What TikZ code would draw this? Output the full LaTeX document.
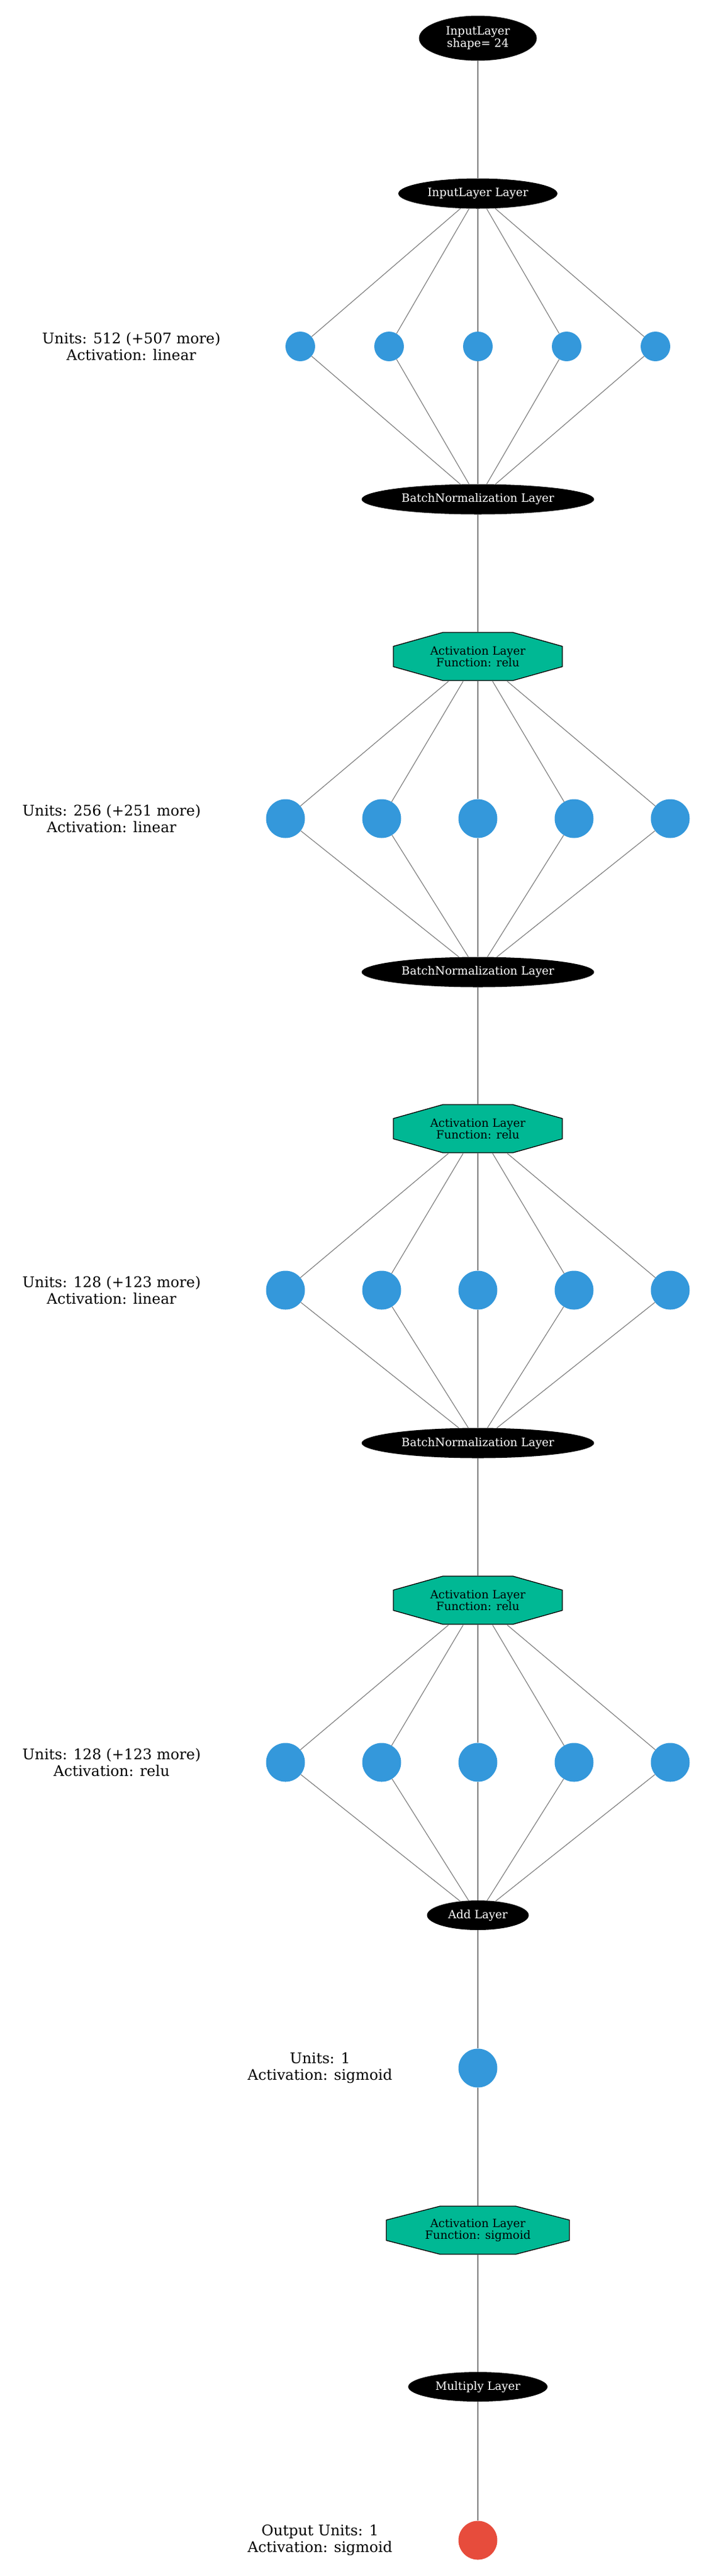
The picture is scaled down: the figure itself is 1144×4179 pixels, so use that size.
\documentclass[tikz,border=0pt]{standalone}
\usepackage{fontspec}
\setmainfont{DejaVu Serif}
\usetikzlibrary{shapes,arrows}

\definecolor{unitblue}{HTML}{3498DB}
\definecolor{outred}{HTML}{E74C3C}
\definecolor{actgreen}{HTML}{00B894}
\definecolor{linkgray}{HTML}{808080}

\tikzstyle{link}=[draw, linkgray, line width=1.2pt]
\tikzstyle{layer}=[ellipse, fill=black, text=white, inner sep=0pt, minimum height=49pt, align=center, font=\fontsize{18.5}{20}\selectfont]
\tikzstyle{unit}=[circle, fill=unitblue, inner sep=0pt, minimum size=63pt]
\tikzstyle{smallunit}=[unit, minimum size=48pt]
\tikzstyle{info}=[align=center, font=\fontsize{23.75}{27}\selectfont]
\tikzset{actlayer/.style={rectangle, minimum width=276pt, minimum height=80pt, inner sep=0pt, align=center, font=\fontsize{18.5}{19}\selectfont,
  path picture={\filldraw[fill=actgreen, draw=black, line width=1.3pt]
    ([xshift=#1, yshift=-1pt]path picture bounding box.north west) -- ([xshift=-#1, yshift=-1pt]path picture bounding box.north east)
    -- ([xshift=-1pt, yshift=-23.5pt]path picture bounding box.north east) -- ([xshift=-1pt, yshift=23.5pt]path picture bounding box.south east)
    -- ([xshift=-#1, yshift=1pt]path picture bounding box.south east) -- ([xshift=#1, yshift=1pt]path picture bounding box.south west)
    -- ([xshift=1pt, yshift=23.5pt]path picture bounding box.south west) -- ([xshift=1pt, yshift=-23.5pt]path picture bounding box.north west) -- cycle;}},
  actlayer/.default=81pt}

\begin{document}
\begin{tikzpicture}[x=1pt, y=-1pt]
\useasboundingbox (0,0) rectangle (1144,4179);

\node (input) [layer, minimum width=191pt, minimum height=73pt] at (775,62) {InputLayer\\shape= 24};
\node (inlayer) [layer, minimum width=258pt, below of=input, node distance=252pt] {InputLayer Layer};

\node (d1c) [smallunit, below of=inlayer, node distance=248pt] {};
\node (d1b) [smallunit, left of=d1c, node distance=144pt] {};
\node (d1a) [smallunit, left of=d1b, node distance=144pt] {};
\node (d1d) [smallunit, right of=d1c, node distance=144pt] {};
\node (d1e) [smallunit, right of=d1d, node distance=144pt] {};
\node (d1info) [info, left of=d1a, node distance=274pt] {Units: 512 (+507 more)\\Activation: linear};

\node (bn1) [layer, minimum width=377pt, below of=d1c, node distance=248pt] {BatchNormalization Layer};
\node (act1) [actlayer, below of=bn1, node distance=255pt] {Activation Layer\\Function: relu};

\node (d2c) [unit, below of=act1, node distance=263pt] {};
\node (d2b) [unit, left of=d2c, node distance=156pt] {};
\node (d2a) [unit, left of=d2b, node distance=156pt] {};
\node (d2d) [unit, right of=d2c, node distance=156pt] {};
\node (d2e) [unit, right of=d2d, node distance=156pt] {};
\node (d2info) [info, left of=d2a, node distance=282pt] {Units: 256 (+251 more)\\Activation: linear};

\node (bn2) [layer, minimum width=377pt, below of=d2c, node distance=249pt] {BatchNormalization Layer};
\node (act2) [actlayer, below of=bn2, node distance=254pt] {Activation Layer\\Function: relu};

\node (d3c) [unit, below of=act2, node distance=262pt] {};
\node (d3b) [unit, left of=d3c, node distance=156pt] {};
\node (d3a) [unit, left of=d3b, node distance=156pt] {};
\node (d3d) [unit, right of=d3c, node distance=156pt] {};
\node (d3e) [unit, right of=d3d, node distance=156pt] {};
\node (d3info) [info, left of=d3a, node distance=282pt] {Units: 128 (+123 more)\\Activation: linear};

\node (bn3) [layer, minimum width=377pt, below of=d3c, node distance=248pt] {BatchNormalization Layer};
\node (act3) [actlayer, below of=bn3, node distance=255pt] {Activation Layer\\Function: relu};

\node (d4c) [unit, below of=act3, node distance=263pt] {};
\node (d4b) [unit, left of=d4c, node distance=156pt] {};
\node (d4a) [unit, left of=d4b, node distance=156pt] {};
\node (d4d) [unit, right of=d4c, node distance=156pt] {};
\node (d4e) [unit, right of=d4d, node distance=156pt] {};
\node (d4info) [info, left of=d4a, node distance=282pt] {Units: 128 (+123 more)\\Activation: relu};

\node (add) [layer, minimum width=165pt, minimum height=48pt, below of=d4c, node distance=248pt] {Add Layer};
\node (d5) [unit, below of=add, node distance=248pt] {};
\node (d5info) [info, left of=d5, node distance=256pt] {Units: 1\\Activation: sigmoid};
\node (act4) [actlayer=88pt, minimum width=299pt, below of=d5, node distance=263pt] {Activation Layer\\Function: sigmoid};
\node (mult) [layer, minimum width=226pt, minimum height=48pt, below of=act4, node distance=254pt] {Multiply Layer};
\node (out) [unit, fill=outred, below of=mult, node distance=249pt] {};
\node (outinfo) [info, left of=out, node distance=256pt] {Output Units: 1\\Activation: sigmoid};

\draw [link] (input) -- (inlayer);
\draw [link] (inlayer) -- (d1a);
\draw [link] (inlayer) -- (d1b);
\draw [link] (inlayer) -- (d1c);
\draw [link] (inlayer) -- (d1d);
\draw [link] (inlayer) -- (d1e);
\draw [link] (d1a) -- (bn1);
\draw [link] (d1b) -- (bn1);
\draw [link] (d1c) -- (bn1);
\draw [link] (d1d) -- (bn1);
\draw [link] (d1e) -- (bn1);
\draw [link] (bn1) -- (act1);
\draw [link] (act1) -- (d2a);
\draw [link] (act1) -- (d2b);
\draw [link] (act1) -- (d2c);
\draw [link] (act1) -- (d2d);
\draw [link] (act1) -- (d2e);
\draw [link] (d2a) -- (bn2);
\draw [link] (d2b) -- (bn2);
\draw [link] (d2c) -- (bn2);
\draw [link] (d2d) -- (bn2);
\draw [link] (d2e) -- (bn2);
\draw [link] (bn2) -- (act2);
\draw [link] (act2) -- (d3a);
\draw [link] (act2) -- (d3b);
\draw [link] (act2) -- (d3c);
\draw [link] (act2) -- (d3d);
\draw [link] (act2) -- (d3e);
\draw [link] (d3a) -- (bn3);
\draw [link] (d3b) -- (bn3);
\draw [link] (d3c) -- (bn3);
\draw [link] (d3d) -- (bn3);
\draw [link] (d3e) -- (bn3);
\draw [link] (bn3) -- (act3);
\draw [link] (act3) -- (d4a);
\draw [link] (act3) -- (d4b);
\draw [link] (act3) -- (d4c);
\draw [link] (act3) -- (d4d);
\draw [link] (act3) -- (d4e);
\draw [link] (d4a) -- (add);
\draw [link] (d4b) -- (add);
\draw [link] (d4c) -- (add);
\draw [link] (d4d) -- (add);
\draw [link] (d4e) -- (add);
\draw [link] (add) -- (d5);
\draw [link] (d5) -- (act4);
\draw [link] (act4) -- (mult);
\draw [link] (mult) -- (out);

\end{tikzpicture}
\end{document}
